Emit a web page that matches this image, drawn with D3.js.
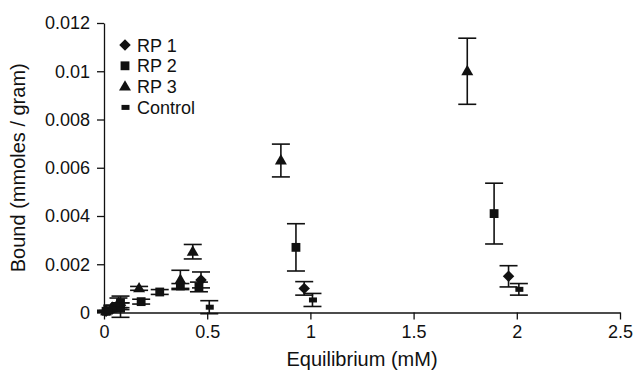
<!DOCTYPE html>
<html>
<head>
<meta charset="utf-8">
<script src="https://cdn.jsdelivr.net/npm/d3@7"></script>
<style>
  body { margin: 0; background: #fff; }
  svg { display: block; font-family: "Liberation Sans", Arial, sans-serif; }
</style>
</head>
<body>
<svg id="graph" width="633" height="376"></svg>
<script>
// values (x = equilibrium mM, y = bound, err = +/- bar)
var rp1X   = [0.01, 0.04, 0.08, 0.47, 0.97, 1.96];
var rp1Y   = [0.00005, 0.00015, 0.0003, 0.00135, 0.001, 0.0015];
var rp1Err = [0.00003, 0.00008, 0.0001, 0.00033, 0.00028, 0.00044];

var rp2X   = [0.01, 0.05, 0.08, 0.18, 0.27, 0.37, 0.46, 0.93, 1.89];
var rp2Y   = [0.00005, 0.0002, 0.0004, 0.00045, 0.00085, 0.0011, 0.00106, 0.0027, 0.0041];
var rp2Err = [0.00003, 0.0001, 0.00028, 0.0001, 0.0001, 0.0001, 0.0002, 0.00098, 0.00126];

var rp3X   = [0.01, 0.04, 0.07, 0.17, 0.37, 0.43, 0.857, 1.76];
var rp3Y   = [0.00005, 0.0002, 0.0004, 0.001, 0.00135, 0.00252, 0.0063, 0.01];
var rp3Err = [0.00003, 0.0001, 0.0002, 0.00008, 0.0004, 0.0003, 0.00068, 0.00137];

var ctlX   = [0.02, 0.08, 0.51, 1.01, 2.01];
var ctlY   = [0.00005, 0.0001, 0.00022, 0.00052, 0.00096];
var ctlErr = [0.00003, 0.0003, 0.00027, 0.00027, 0.00024];

var xTicks = [0, 0.5, 1, 1.5, 2, 2.5];
var xLabels = ["0", "0.5", "1", "1.5", "2", "2.5"];
var yTicks = [0, 0.002, 0.004, 0.006, 0.008, 0.01, 0.012];
var yLabels = ["0", "0.002", "0.004", "0.006", "0.008", "0.01", "0.012"];

var seriesNames = ["RP 1", "RP 2", "RP 3", "Control"];

var svg = d3.select("svg");

var x = d3.scaleLinear().domain([0, 2.5]).range([104, 620]);
var y = d3.scaleLinear().domain([0, 0.012]).range([312.5, 23]);

// axes
var xAxis = d3.axisBottom(x).tickValues(xTicks)
  .tickFormat(function(d, i) { return xLabels[i]; })
  .tickSizeInner(7).tickSizeOuter(0).tickPadding(6);
var yAxis = d3.axisLeft(y).tickValues(yTicks)
  .tickFormat(function(d, i) { return yLabels[i]; })
  .tickSizeInner(7).tickSizeOuter(0).tickPadding(7);

var gx = svg.append("g").attr("transform", "translate(0," + y(0) + ")").call(xAxis);
var gy = svg.append("g").attr("transform", "translate(" + x(0) + ",0)").call(yAxis);
[gx, gy].forEach(function(g) {
  g.selectAll("path, line").attr("stroke", "#111").attr("stroke-width", 1.3);
  g.selectAll("text").attr("fill", "#111").style("font-size", "18px");
});

svg.append("text")
  .attr("x", (x(0) + x(2.5)) / 2).attr("y", 366)
  .attr("text-anchor", "middle")
  .style("font-size", "20px").attr("fill", "#111")
  .text("Equilibrium (mM)");

svg.append("text")
  .attr("transform", "translate(25," + ((y(0) + y(0.012)) / 2) + ") rotate(-90)")
  .attr("text-anchor", "middle")
  .style("font-size", "20px").attr("fill", "#111")
  .text("Bound (mmoles / gram)");

// markers
var markers = [
  function(g) { g.append("path").attr("d", d3.symbol(d3.symbolSquare, 66)()).attr("transform", "rotate(45)"); },
  function(g) { g.append("path").attr("d", d3.symbol(d3.symbolSquare, 78)()); },
  function(g) { g.append("path").attr("d", d3.symbol(d3.symbolTriangle, 62)()).attr("transform", "translate(0,0.5)"); },
  function(g) { g.append("rect").attr("x", -3.5).attr("y", -2.5).attr("width", 8).attr("height", 5); }
];

var series = [
  { xs: rp1X, ys: rp1Y, es: rp1Err },
  { xs: rp2X, ys: rp2Y, es: rp2Err },
  { xs: rp3X, ys: rp3Y, es: rp3Err },
  { xs: ctlX, ys: ctlY, es: ctlErr }
];

var plot = svg.append("g");
series.forEach(function(s, si) {
  var pts = s.xs.map(function(v, i) { return { x: v, y: s.ys[i], e: s.es[i] }; });
  var bars = plot.append("g").attr("stroke", "#111").attr("stroke-width", 1.6);
  pts.forEach(function(p) {
    var cx = x(p.x), top = y(p.y + p.e), bot = y(p.y - p.e);
    bars.append("line").attr("x1", cx).attr("x2", cx).attr("y1", top).attr("y2", bot);
    bars.append("line").attr("x1", cx - 9).attr("x2", cx + 9).attr("y1", top).attr("y2", top);
    bars.append("line").attr("x1", cx - 9).attr("x2", cx + 9).attr("y1", bot).attr("y2", bot);
  });
  plot.append("g").attr("fill", "#111")
    .selectAll("g").data(pts).enter().append("g")
    .attr("transform", function(d) { return "translate(" + x(d.x) + "," + y(d.y) + ")"; })
    .each(function() { markers[si](d3.select(this)); });
});

// legend
var legend = svg.append("g").attr("transform", "translate(125,45)");
seriesNames.forEach(function(name, i) {
  var row = legend.append("g").attr("transform", "translate(0," + (i * 20.8) + ")");
  var m = row.append("g").attr("fill", "#111");
  markers[i](m);
  row.append("text").attr("x", 12).attr("y", 6.5)
    .style("font-size", "18px").attr("fill", "#111").text(name);
});
</script>
</body>
</html>
